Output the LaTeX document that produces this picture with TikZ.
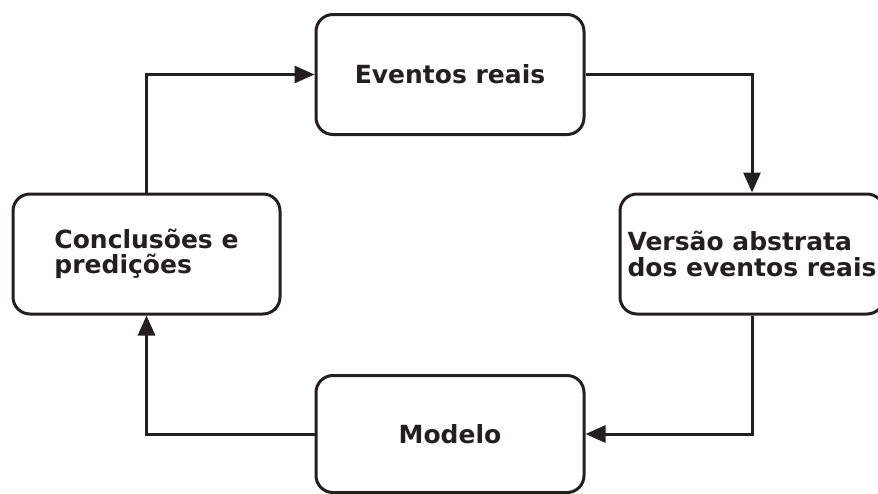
\documentclass[tikz,border=0pt]{standalone}
\usepackage{fontspec}
\setmainfont{DejaVu Sans}
\usetikzlibrary{arrows.meta}
\definecolor{tinta}{RGB}{35,31,32}

\begin{document}
\begin{tikzpicture}[x=1pt, y=-1pt, tinta, line width=3pt,
  caixa/.style={draw, rounded corners=17pt, minimum width=268pt,
    minimum height=120pt, align=left, inner sep=0pt,
    font=\fontsize{25}{25.5}\selectfont\bfseries},
  seta/.style={-{Triangle[length=20pt,width=17pt]}}]
  \clip (0,0) rectangle (878,493);

  \node[caixa] (EV) at (450,74.5) {Eventos reais};
  \node[caixa, minimum width=264pt] (AB) at (752,254) {Versão abstrata\\dos eventos reais};
  \node[caixa, minimum height=117pt] (MO) at (450,434) {Modelo};
  \node[caixa, minimum width=267pt] (CO) at (146.5,254) {Conclusões e\\predições};

  \draw[seta] (EV.east) -| (AB.north);
  \draw[seta] (AB.south) |- (MO.east);
  \draw[seta] (MO.west) -| (CO.south);
  \draw[seta] (CO.north) |- (EV.west);
\end{tikzpicture}
\end{document}
